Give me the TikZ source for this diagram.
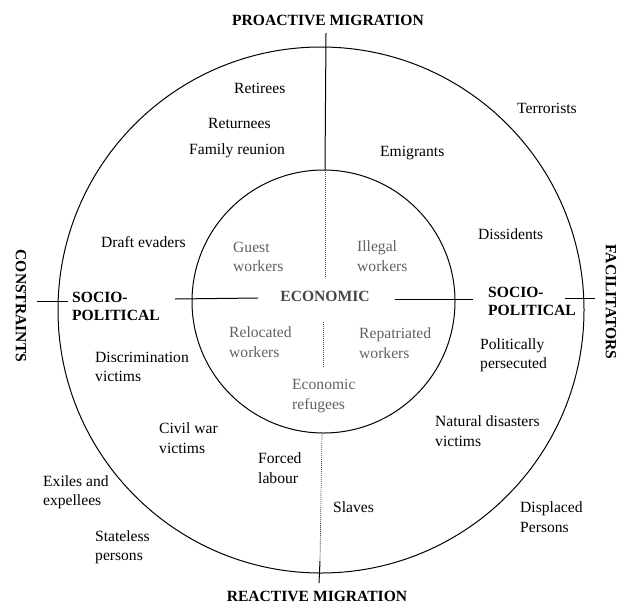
\documentclass[tikz,border=0pt]{standalone}
\usepackage{fontspec}
\setmainfont{Liberation Serif}
\begin{document}
\begin{tikzpicture}[x=1pt,y=-1pt,
  ring/.style={line width=1pt},
  axis/.style={line width=1pt},
  faint/.style={line width=0.7pt, black!70, dash pattern=on 1.2pt off 0.8pt},
  lbl/.style={anchor=west, align=left, inner sep=0pt,
    font=\fontsize{15.6}{19.5}\selectfont},
  inlbl/.style={lbl, text=black!62},
  head/.style={inner sep=0pt, font=\fontsize{15.6}{18}\selectfont\bfseries},
  side/.style={head, align=left, anchor=west}]
\useasboundingbox (0,0) rectangle (618,606);

% the two rings
\coordinate (oc) at (321,310);
\coordinate (ic) at (323.5,301.5);
\draw[ring] (oc) circle[radius=263pt];
\draw[ring] (ic) circle[radius=131.5pt];

% vertical axis
\coordinate (vtop) at (326,33);
\coordinate (vin1) at (325,170);
\coordinate (vin2) at (325,278);
\coordinate (vin3) at (323,322);
\coordinate (vin4) at (323,367);
\coordinate (vlow) at (322,433);
\coordinate (vtick) at (320,561);
\coordinate (vbot) at (319,583);
\draw[axis] (vtop) -- (vin1);
\draw[faint] (vin1) -- (vin2);
\draw[faint] (vin3) -- (vin4);
\draw[faint] (vlow) -- (vtick);
\draw[axis] (vtick) -- (vbot);

% horizontal axis
\coordinate (hl1) at (37,301);
\coordinate (hl2) at (68,301);
\coordinate (hl3) at (175,299);
\coordinate (hl4) at (258,298);
\coordinate (hr1) at (395,299);
\coordinate (hr2) at (473,299);
\coordinate (hr3) at (565,298);
\coordinate (hr4) at (595,298);
\draw[axis] (hl1) -- (hl2);
\draw[axis] (hl3) -- (hl4);
\draw[axis] (hr1) -- (hr2);
\draw[axis] (hr3) -- (hr4);

% axis titles
\node[head] (pro) at (328,20) {PROACTIVE MIGRATION};
\node[head] (rea) at (317,596) {REACTIVE MIGRATION};
\node[head, rotate=-90] (con) at (21,306) {CONSTRAINTS};
\node[head, rotate=-90] (fac) at (611,302) {FACILITATORS};

% socio-political ring
\node[side] (spl) at (72,306) {SOCIO-\\POLITICAL};
\node[side] (spr) at (488,301) {SOCIO-\\POLITICAL};
\node[lbl] (ret) at (234,88) {Retirees};
\node[lbl] (rtn) at (208,123) {Returnees};
\node[lbl] (fam) at (189,151) {Family reunion};
\node[lbl] (ter) at (517,108) {Terrorists};
\node[lbl] (emi) at (380,153) {Emigrants};
\node[lbl] (dis) at (478,234) {Dissidents};
\node[lbl] (dra) at (101,242) {Draft evaders};
\node[lbl] (dsc) at (95,367) {Discrimination\\victims};
\node[lbl] (pol) at (480,355) {Politically\\persecuted};
\node[lbl] (civ) at (159,438) {Civil war\\victims};
\node[lbl] (nat) at (435,431) {Natural disasters\\victims};
\node[lbl] (frc) at (258,468) {Forced\\labour};
\node[lbl] (exi) at (43,492) {Exiles and\\expellees};
\node[lbl] (slv) at (333,507) {Slaves};
\node[lbl] (dsp) at (520,517) {Displaced\\Persons};
\node[lbl] (sta) at (95,547) {Stateless\\persons};

% economic core
\node[head, text=black!72] (eco) at (325,296) {ECONOMIC};
\node[inlbl] (gue) at (233,257) {Guest\\workers};
\node[inlbl] (ill) at (357,256) {Illegal\\workers};
\node[inlbl] (rel) at (229,342) {Relocated\\workers};
\node[inlbl] (rep) at (359,343) {Repatriated\\workers};
\node[inlbl] (ref) at (292,396) {Economic\\refugees};
\end{tikzpicture}
\end{document}
